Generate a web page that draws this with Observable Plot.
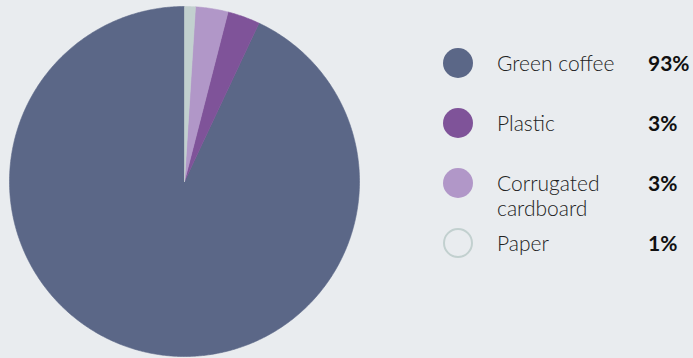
<!DOCTYPE html>
<html>
<head>
<meta charset="utf-8">
<script src="https://cdn.jsdelivr.net/npm/d3@7"></script>
<script src="https://cdn.jsdelivr.net/npm/@observablehq/plot@0.6"></script>
<style>
  html, body { margin: 0; padding: 0; background: #e9ecef; }
  body { width: 693px; height: 358px; position: relative; overflow: hidden; font-family: Lato, "Noto Sans", sans-serif; }
  #chart { position: absolute; left: 0; top: 0; }
  #legend { position: absolute; left: 0; top: 0; width: 693px; height: 358px; }
  .item { position: absolute; left: 443px; display: flex; align-items: flex-start; }
  .sw { width: 30px; height: 30px; border-radius: 50%; box-sizing: border-box; flex: none; }
  .lab { position: absolute; left: 54px; top: 2px; width: 140px; font-size: 21px; line-height: 25px; font-weight: 300; color: #222; white-space: nowrap; }
  .val { position: absolute; left: 205px; top: 2px; font-size: 21px; line-height: 25px; font-weight: 700; color: #111; }
</style>
</head>
<body>
<div id="chart"></div>
<div id="legend"></div>
<script>
const categories = ["Green coffee", "Plastic", "Corrugated\ncardboard", "Paper"];
const values = [93, 3, 3, 1];
const valueLabels = ["93%", "3%", "3%", "1%"];
const colors = ["#5b6787", "#7f5399", "#b197c8", "#c2d0cf"];

const data = categories.map((c, i) => ({category: c, value: values[i]}));

// Pie angles: counter-clockwise from 12 o'clock
const arcs = d3.pie().value(d => d.value).sort(null).startAngle(0).endAngle(-2 * Math.PI)(data);

const pts = [];
arcs.forEach(a => {
  const a0 = Math.min(a.startAngle, a.endAngle), a1 = Math.max(a.startAngle, a.endAngle);
  const n = Math.max(4, Math.ceil((a1 - a0) / (2 * Math.PI) * 720));
  pts.push({category: a.data.category, x: 0, y: 0});
  for (let k = 0; k <= n; k++) {
    const t = a0 + (a1 - a0) * k / n;
    pts.push({category: a.data.category, x: Math.sin(t), y: Math.cos(t)});
  }
  pts.push({category: a.data.category, x: 0, y: 0});
});

const chart = Plot.plot({
  width: 370,
  height: 358,
  marginLeft: 9,
  marginRight: 11,
  marginTop: 6,
  marginBottom: 2,
  style: {background: "transparent"},
  x: {domain: [-1, 1], axis: null},
  y: {domain: [-1, 1], axis: null},
  color: {domain: categories, range: colors},
  marks: [
    Plot.line(pts, {x: "x", y: "y", z: "category", fill: "category", stroke: "category", strokeWidth: 0.6, curve: "linear"})
  ]
});
document.getElementById("chart").appendChild(chart);

const legend = document.getElementById("legend");
const tops = [48, 108, 168, 228];
categories.forEach((c, i) => {
  const item = document.createElement("div");
  item.className = "item";
  item.style.top = tops[i] + "px";
  const sw = document.createElement("div");
  sw.className = "sw";
  if (c === "Paper") { sw.style.border = "2.5px solid " + colors[i]; }
  else { sw.style.background = colors[i]; }
  const lab = document.createElement("div");
  lab.className = "lab";
  lab.innerHTML = c.replace("\n", "<br>");
  const val = document.createElement("div");
  val.className = "val";
  val.textContent = valueLabels[i];
  item.appendChild(sw); item.appendChild(lab); item.appendChild(val);
  legend.appendChild(item);
});
</script>
</body>
</html>
